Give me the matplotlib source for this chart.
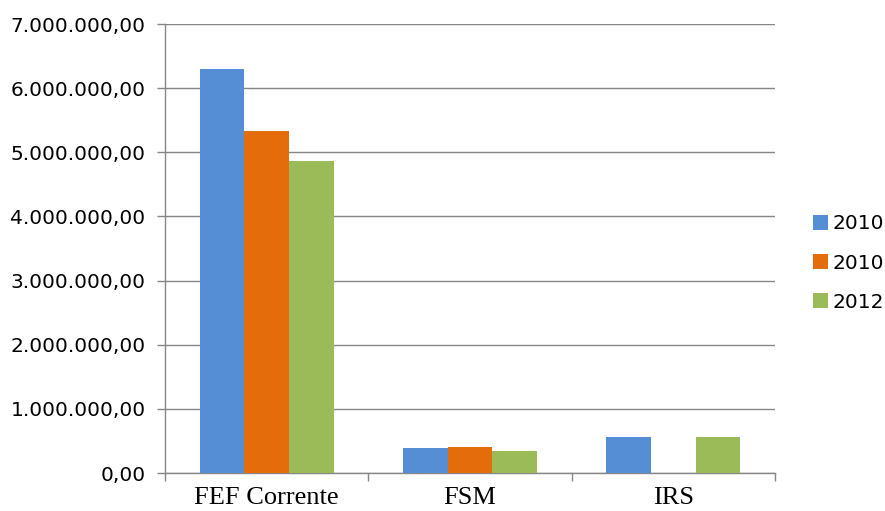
import matplotlib.pyplot as plt
import numpy as np
from matplotlib.ticker import FuncFormatter, FixedLocator

categorias = ['FEF Corrente', 'FSM', 'IRS']
series = ['2010', '2010', '2012']
valores_a = [6300000, 385000, 555000]
valores_b = [5330000, 400000, 0]
valores_c = [4870000, 350000, 555000]
yticks = [0, 1000000, 2000000, 3000000, 4000000, 5000000, 6000000, 7000000]

colores = ['#558ED5', '#E46C0A', '#9BBB59']
gris = '#868686'


def fmt_pt(v, pos):
    s = f'{v:,.2f}'
    return s.replace(',', 'X').replace('.', ',').replace('X', '.')


fig = plt.figure(figsize=(8.85, 5.11), dpi=100)
ax = fig.add_axes([165 / 885, 1 - 473 / 511, 610 / 885, 449 / 511])

x = np.arange(len(categorias))
w = 0.22
for i, (vals, lab) in enumerate(zip([valores_a, valores_b, valores_c], series)):
    ax.bar(x + (i - 1) * w, vals, width=w, color=colores[i], label=lab, zorder=3)

ax.set_xlim(-0.5, len(categorias) - 0.5)
ax.set_ylim(0, 7000000)
ax.yaxis.set_major_locator(FixedLocator(yticks))
ax.yaxis.set_major_formatter(FuncFormatter(fmt_pt))
ax.grid(axis='y', color=gris, linewidth=1, zorder=0)

# ticks del eje x en los limites de categoria
ax.set_xticks(x)
ax.set_xticklabels(categorias, family='Liberation Serif', fontsize=19)
ax.set_xticks(np.arange(len(categorias) + 1) - 0.5, minor=True)
ax.tick_params(axis='x', which='major', length=0, pad=10)
ax.tick_params(axis='x', which='minor', length=6, color=gris, width=1)
ax.tick_params(axis='y', length=6, color=gris, width=1, labelsize=14.5, pad=8)

for s in ['top', 'right']:
    ax.spines[s].set_visible(False)
for s in ['left', 'bottom']:
    ax.spines[s].set_color(gris)
    ax.spines[s].set_linewidth(1)

fig.legend(loc='center left', bbox_to_anchor=(795 / 885, 1 - 263 / 511),
           frameon=False, fontsize=14.5, handlelength=0.75, handleheight=0.75,
           handletextpad=0.2, labelspacing=1.0)

plt.savefig('out.png', dpi=100)
